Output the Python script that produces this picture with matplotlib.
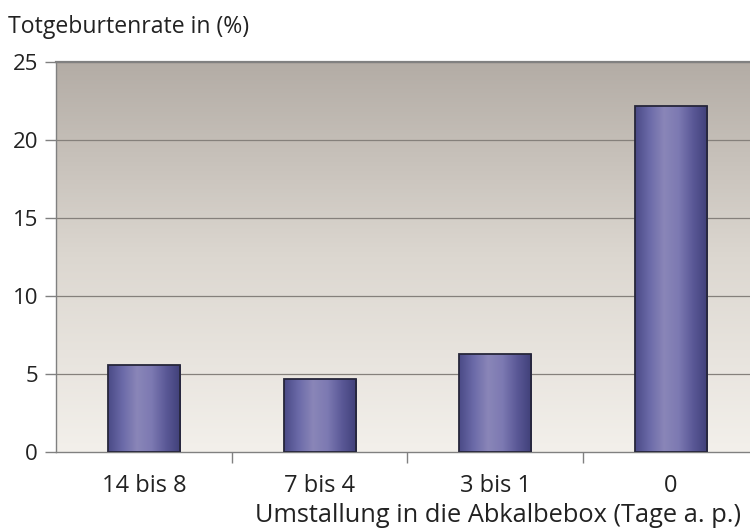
import numpy as np
import matplotlib
matplotlib.use("Agg")
import matplotlib.pyplot as plt
import matplotlib.transforms as mtransforms
from matplotlib.colors import LinearSegmentedColormap
from matplotlib.patches import Rectangle

categories = ["14 bis 8", "7 bis 4", "3 bis 1", "0"]
rates = [5.6, 4.7, 6.3, 22.2]
y_ticks = [0, 5, 10, 15, 20, 25]
y_label = "Totgeburtenrate in (%)"
x_label = "Umstallung in die Abkalbebox (Tage a. p.)"

plt.rcParams["font.family"] = ["Open Sans", "DejaVu Sans"]

fig = plt.figure(figsize=(7.5, 5.31), dpi=100)
ax = fig.add_axes([0.0747, 0.1488, 0.937, 0.7345])

ax.set_xlim(-0.5, len(categories) - 0.5)
ax.set_ylim(0, 25)

# vertical background gradient: warm grey at top, pale at bottom
bg = LinearSegmentedColormap.from_list("bg", ["#f3f0eb", "#dcd7d0", "#b3aca5"])
grad = np.linspace(0, 1, 256).reshape(-1, 1)
ax.imshow(grad, cmap=bg, aspect="auto", origin="lower",
          extent=[-0.5, len(categories) - 0.5, 0, 25], zorder=0)

# horizontal gridlines
for t in y_ticks[1:]:
    ax.axhline(t, color="#85807b", lw=0.9, zorder=1)

# bars with a horizontal cylinder-like shading
bar_cmap = LinearSegmentedColormap.from_list(
    "bar", ["#4a4a86", "#6b6aa8", "#8a86b8", "#7c79b2", "#5a5896", "#3f3f78"])
hgrad = np.linspace(0, 1, 256).reshape(1, -1)
width = 0.41
for i, v in enumerate(rates):
    x0 = i - width / 2
    im = ax.imshow(hgrad, cmap=bar_cmap, aspect="auto",
                   extent=[x0, x0 + width, 0, v], zorder=2)
    rect = Rectangle((x0, 0), width, v, facecolor="none",
                     edgecolor="#26263a", lw=1.3, zorder=3)
    ax.add_patch(rect)
    im.set_clip_path(rect)

ax.set_xlim(-0.5, len(categories) - 0.5)
ax.set_ylim(0, 25)

# spines
for s in ["left", "bottom", "top"]:
    ax.spines[s].set_color("#808080")
    ax.spines[s].set_linewidth(1.0)
ax.spines["right"].set_visible(False)
ax.spines["top"].set_linewidth(1.6)

ax.set_yticks(y_ticks)
ax.set_yticklabels([str(t) for t in y_ticks], fontsize=16, color="#222222")
ax.tick_params(axis="y", length=8, width=1, color="#808080", pad=5)

ax.set_xticks([i + 0.5 for i in range(len(categories) - 1)])
ax.set_xticklabels([])
ax.tick_params(axis="x", length=8, width=1, color="#808080")

# category names under each bar
trans = mtransforms.blended_transform_factory(ax.transData, fig.transFigure)
for i, c in enumerate(categories):
    ax.text(i, 1 - 486 / 531, c, ha="center", va="center", fontsize=17,
            color="#222222", transform=trans)

fig.text(498 / 750, 1 - 515 / 531, x_label, ha="center", va="center",
         fontsize=18.3, color="#222222")
fig.text(0.0107, 1 - 27 / 531, y_label, ha="left", va="center", fontsize=16.6,
         color="#222222")

fig.savefig("out.png", dpi=100)
